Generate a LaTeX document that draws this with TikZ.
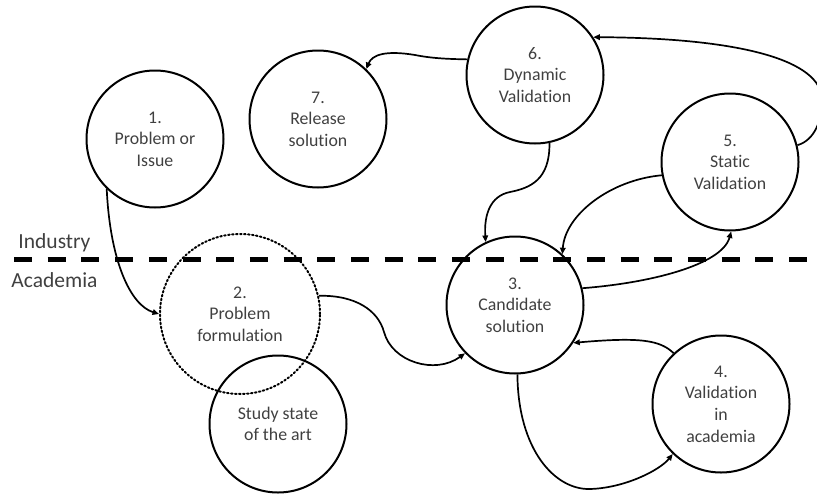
\documentclass[tikz,border=0pt]{standalone}
\usepackage{fontspec}
\setmainfont{Carlito}[Ligatures={NoCommon,NoContextual}]
\usetikzlibrary{arrows.meta}
\definecolor{txt}{HTML}{404040}
\begin{document}
\begin{tikzpicture}[x=1pt,y=-1pt,
  stage/.style={circle,draw=black,line width=2pt,minimum size=137pt,inner sep=0pt,
    align=center,font=\fontsize{17.8}{21.6}\selectfont,text=txt},
  dotring/.style={line width=2pt,dash pattern=on 1.6pt off 2.4pt,line cap=round,minimum size=160pt},
  conn/.style={line width=1.7pt,-{Triangle[length=6.5pt,width=5.5pt]}},
  side/.style={font=\fontsize{21.5}{26}\selectfont,text=txt,inner sep=0pt},
  divider/.style={line width=5pt,dash pattern=on 18pt off 15.7pt}]

\useasboundingbox (0,0) rectangle (817,493);
\clip (0,0) rectangle (817,493);

% divider
\coordinate (dl) at (14,259);
\coordinate (dr) at (817,259);
\draw[divider] (dl) -- (dr);

\node[side] (ind) at (54.5,243) {Industry};
\node[side] (aca) at (54.5,280) {Academia};

% stages
\node[stage] (c1) at (155,139) {1.\\Problem or\\Issue};
\node[stage] (c7) at (318,119) {7.\\Release\\solution};
\node[stage] (c6) at (535,75) {6.\\Dynamic\\Validation};
\node[stage] (c5) at (730,162) {5.\\Static\\Validation};
\node[stage] (c3) at (515,305) {3.\\Candidate\\solution};
\node[stage] (c4) at (721,404) {4.\\Validation\\in\\academia};
\node[stage,dotring] (c2) at (240,314) {2.\\Problem\\formulation};
\node[stage] (sa) at (278,424) {Study state\\of the art};

% connectors
\draw[conn] (c1.226) .. controls (110,260) and (130,305) .. (c2.west);
\draw[conn] (c2.13) .. controls (355,295) and (378,310) .. (384,332)
  .. controls (392,362) and (435,375) .. (c3.224);
\draw[conn] (c3.272) .. controls (518,450) and (555,490) .. (590,489)
  .. controls (625,488) and (660,470) .. (c4.226);
\draw[conn] (c4.133) .. controls (660,340) and (640,337) .. (c3.327);
\draw[conn] (c3.14) .. controls (650,283) and (722,265) .. (c5.271);
\draw[conn] (c5.191) .. controls (610,180) and (565,215) .. (c3.47);
\draw[conn] (c6.282) .. controls (550,180) and (530,188) .. (510,192)
  .. controls (490,196) and (484,215) .. (c3.115);
\draw[conn] (c6.167) .. controls (445,59) and (430,58) .. (415,55)
  .. controls (385,50) and (372,55) .. (c7.46);
\draw[conn] (c5.14) .. controls (815,140) and (822,120) .. (822,100)
  .. controls (822,60) and (740,38) .. (c6.33);
\end{tikzpicture}
\end{document}
